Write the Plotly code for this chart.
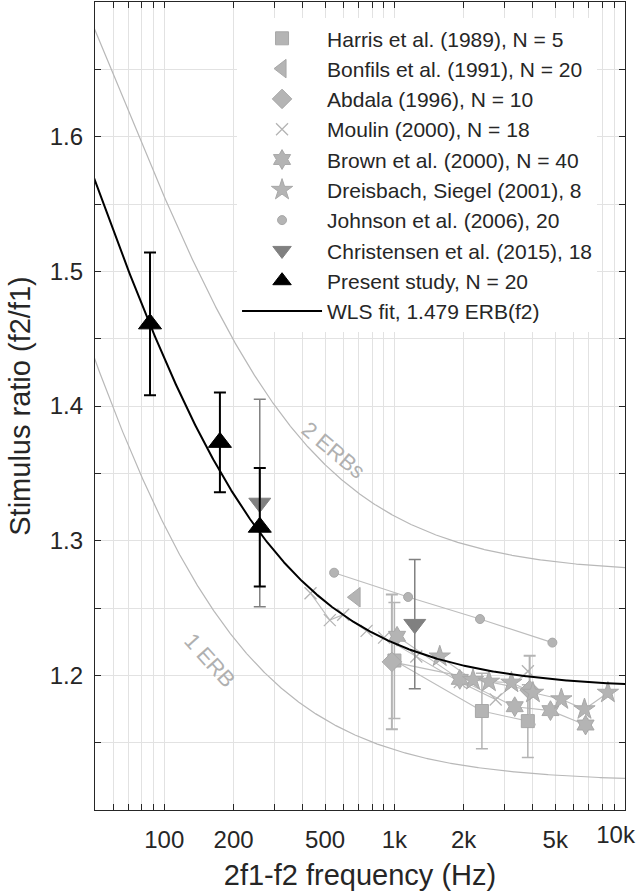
import numpy as np
import plotly.graph_objects as go

# ---------------- data ----------------
harris_f = [1000, 2400, 3800]
harris_r = [1.211, 1.1735, 1.166]
harris_e = [0.043, 0.028, 0.027]

bonfils_f = [680]
bonfils_r = [1.258]

abdala_f = [975, 3870]
abdala_r = [1.21, 1.189]
abdala_e = [0.05, 0.0255]

moulin_f = [432, 524, 599, 757, 902, 1245, 1923, 2755, 3802]
moulin_r = [1.261, 1.241, 1.245, 1.233, 1.228, 1.214, 1.195, 1.182, 1.203]

brown_f = [1027, 1923, 3333, 4766, 6770]
brown_r = [1.229, 1.197, 1.1767, 1.1738, 1.1631]

dreis_f = [1574, 2196, 2576, 3224, 4000, 5313, 6698, 8467]
dreis_r = [1.214, 1.1966, 1.1953, 1.1946, 1.1871, 1.1822, 1.1748, 1.1871]

johnson_f = [547, 1147, 2355, 4858]
johnson_r = [1.2762, 1.2582, 1.2418, 1.2243]

christ_f = [260, 1226]
christ_r = [1.328, 1.238]
christ_e = [0.077, 0.048]

present_f = [86.7, 174.5, 260]
present_r = [1.461, 1.373, 1.310]
present_e = [0.053, 0.037, 0.044]

erb_multiples = [1.0, 2.0]
wls_k = 1.479

x_tick_vals = [60, 70, 80, 90, 100, 200, 300, 400, 500, 600, 700, 800, 900,
               1000, 2000, 3000, 4000, 5000, 6000, 7000, 8000, 9000, 10000]
x_tick_labels = {100: "100", 200: "200", 500: "500", 1000: "1k", 2000: "2k",
                 5000: "5k"}
# the label at the right edge is drawn by a helper axis, nudged left to stay inside the figure
x_edge_tick = [10000]
x_edge_label = ["10k"]
y_tick_vals = [1.15, 1.2, 1.25, 1.3, 1.35, 1.4, 1.45, 1.5, 1.55, 1.6, 1.65]
y_tick_labels = {1.2: "1.2", 1.3: "1.3", 1.4: "1.4", 1.5: "1.5", 1.6: "1.6"}


def erb_curve(k):
    """Primary-ratio curve for f2 - f1 = k * ERB(f2), as a function of 2f1-f2."""
    f2 = np.logspace(np.log10(60), np.log10(300000), 1500)
    erb = 24.7 * (4.37 * f2 / 1000.0 + 1.0)
    q = 1.0 - k * erb / f2
    ok = q > 0.5
    r = 1.0 / q[ok]
    fdp = f2[ok] * (2.0 / r - 1.0)
    keep = (fdp > 40) & (fdp < 12000)
    return fdp[keep], r[keep]


LIGHT = "#b4b4b4"
LIGHT_EDGE = "#a8a8a8"
LINE = "#bdbdbd"
DARK = "#808080"
FONT = "Liberation Sans, Arial, Helvetica, sans-serif"
AXC = "#262626"
X_RANGE = [np.log10(50), 4.002]

fig = go.Figure()

# ERB reference curves
for k in erb_multiples:
    fx, fy = erb_curve(k)
    fig.add_trace(go.Scatter(x=fx, y=fy, mode="lines", showlegend=False,
                             line=dict(color="#b8b8b8", width=1.2), hoverinfo="skip"))

# connecting lines of literature series
for fx, fy in [(harris_f, harris_r), (abdala_f, abdala_r), (moulin_f, moulin_r),
               (brown_f, brown_r), (dreis_f, dreis_r), (johnson_f, johnson_r)]:
    fig.add_trace(go.Scatter(x=fx, y=fy, mode="lines", showlegend=False,
                             line=dict(color=LINE, width=1.1), hoverinfo="skip"))


def err(e, color, thick=1.5, width=6):
    return dict(type="data", array=e, visible=True, color=color, thickness=thick, width=width)


fig.add_trace(go.Scatter(
    x=harris_f, y=harris_r, mode="markers", name="Harris et al. (1989), N = 5",
    marker=dict(symbol="square", size=13, color=LIGHT, line=dict(color=LIGHT_EDGE, width=1)),
    error_y=err(harris_e, LIGHT)))
fig.add_trace(go.Scatter(
    x=bonfils_f, y=bonfils_r, mode="markers", name="Bonfils et al. (1991), N = 20",
    marker=dict(symbol="triangle-left", size=17, color=LIGHT, line=dict(color=LIGHT_EDGE, width=1))))
fig.add_trace(go.Scatter(
    x=abdala_f, y=abdala_r, mode="markers", name="Abdala (1996), N = 10",
    marker=dict(symbol="diamond", size=15, color=LIGHT, line=dict(color=LIGHT_EDGE, width=1)),
    error_y=err(abdala_e, LIGHT, thick=2)))
fig.add_trace(go.Scatter(
    x=moulin_f, y=moulin_r, mode="markers", name="Moulin (2000), N = 18",
    marker=dict(symbol="x-thin", size=12, color=LIGHT, line=dict(color=LIGHT, width=1.3))))
fig.add_trace(go.Scatter(
    x=brown_f, y=brown_r, mode="markers", name="Brown et al. (2000), N = 40",
    marker=dict(symbol="hexagram", size=15, color=LIGHT, line=dict(color=LIGHT_EDGE, width=1))))
fig.add_trace(go.Scatter(
    x=dreis_f, y=dreis_r, mode="markers", name="Dreisbach, Siegel (2001), 8",
    marker=dict(symbol="star", size=16, color=LIGHT, line=dict(color=LIGHT_EDGE, width=1))))
fig.add_trace(go.Scatter(
    x=johnson_f, y=johnson_r, mode="markers", name="Johnson et al. (2006), 20",
    marker=dict(symbol="circle", size=9, color=LIGHT, line=dict(color=LIGHT_EDGE, width=1))))
fig.add_trace(go.Scatter(
    x=christ_f, y=christ_r, mode="markers", name="Christensen et al. (2015), 18",
    marker=dict(symbol="triangle-down", size=19, color=DARK, line=dict(color=DARK, width=1)),
    error_y=err(christ_e, DARK, thick=1.5)))

# WLS fit
wx, wy = erb_curve(wls_k)

fig.add_trace(go.Scatter(
    x=present_f, y=present_r, mode="markers", name="Present study, N = 20",
    marker=dict(symbol="triangle-up", size=20, color="black", line=dict(color="black", width=1)),
    error_y=err(present_e, "black", thick=2)))
fig.add_trace(go.Scatter(x=wx, y=wy, mode="lines", name="WLS fit, 1.479 ERB(f2)",
                         line=dict(color="black", width=2)))

axis_common = dict(
    showline=True, linecolor=AXC, linewidth=1.3, mirror="ticks",
    ticks="inside", ticklen=6, tickwidth=1, tickcolor=AXC,
    showgrid=True, gridcolor="#e2e2e2", gridwidth=1, zeroline=False,
    tickfont=dict(family=FONT, size=24, color=AXC), automargin=False,
)

fig.update_xaxes(
    type="log", range=X_RANGE,
    tickmode="array", tickvals=x_tick_vals,
    ticktext=[x_tick_labels.get(v, "") for v in x_tick_vals],
    title=dict(text="2f1-f2 frequency (Hz)", font=dict(family=FONT, size=29, color=AXC),
               standoff=12),
    ticklabelstandoff=8,
    **axis_common)
fig.update_yaxes(
    range=[1.1, 1.7],
    tickmode="array", tickvals=y_tick_vals,
    ticktext=[y_tick_labels.get(round(v, 2), "") for v in y_tick_vals],
    title=dict(text="Stimulus ratio (f2/f1)", font=dict(family=FONT, size=29, color=AXC),
               standoff=10),
    ticklabelstandoff=6,
    **axis_common)

# helper axis carrying only the right-edge "10k" label
fig.update_layout(xaxis2=dict(
    type="log", range=X_RANGE, overlaying="x", anchor="y", side="bottom",
    tickmode="array", tickvals=x_edge_tick, ticktext=x_edge_label,
    ticks="", showgrid=False, showline=False, zeroline=False,
    tickfont=dict(family=FONT, size=24, color=AXC), automargin=False,
    ticklabelshift=-9, ticklabelstandoff=8, ticklabeloverflow="allow", fixedrange=True,
))
fig.add_trace(go.Scatter(x=x_edge_tick, y=[None], xaxis="x2", yaxis="y", mode="markers",
                         showlegend=False, hoverinfo="skip"))

fig.add_annotation(x=np.log10(545), y=1.367, text="2 ERBs", showarrow=False, textangle=40,
                   font=dict(family=FONT, size=22, color="#b0b0b0"))
fig.add_annotation(x=np.log10(158), y=1.211, text="1 ERB", showarrow=False, textangle=48,
                   font=dict(family=FONT, size=22, color="#b0b0b0"))

fig.update_layout(
    width=636, height=893,
    margin=dict(l=95, r=11, t=2, b=83),
    paper_bgcolor="white", plot_bgcolor="white",
    font=dict(family=FONT, color=AXC),
    hovermode=False,
    legend=dict(x=0.268, y=0.98, xanchor="left", yanchor="top",
                bgcolor="white", borderwidth=0, itemwidth=80,
                font=dict(family=FONT, size=21, color=AXC),
                tracegroupgap=0),
)

fig.write_html(
    "out.html",
    config={"displayModeBar": False},
    post_script="document.body.style.margin='0px';document.body.style.overflow='hidden';",
)
